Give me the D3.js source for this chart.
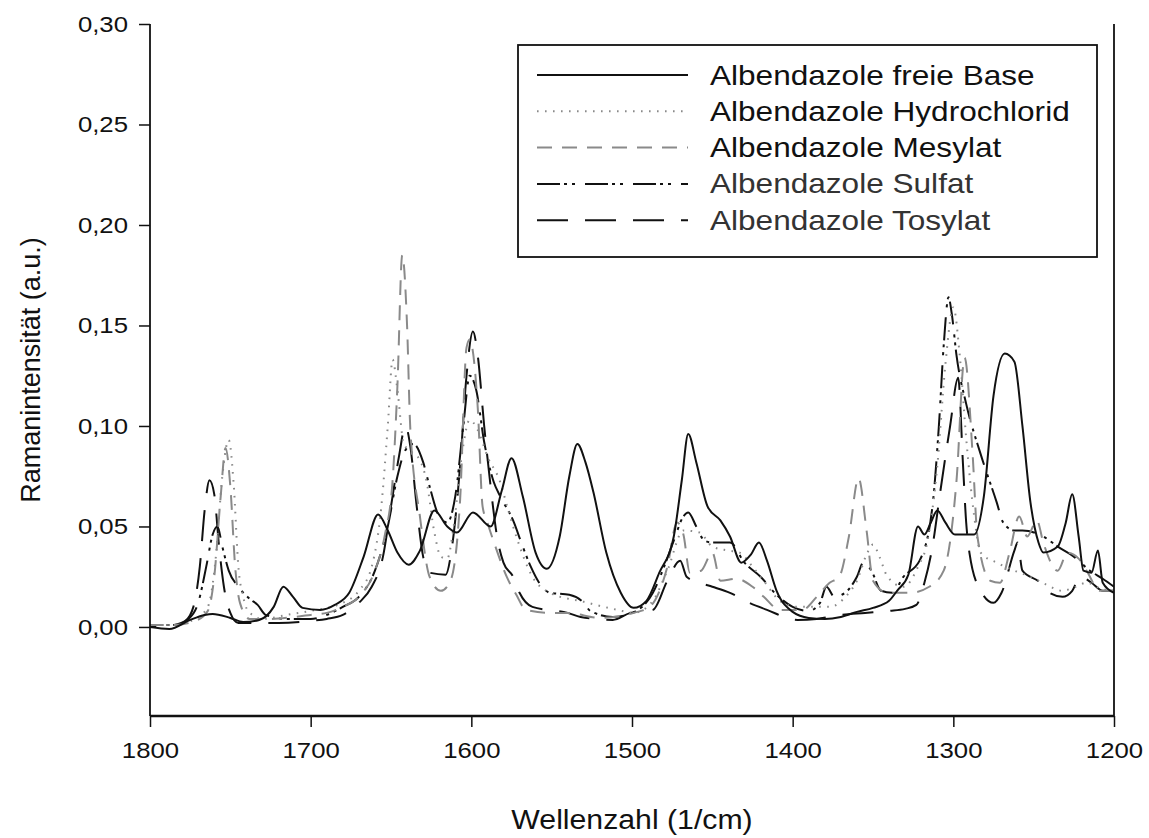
<!DOCTYPE html>
<html><head><meta charset="utf-8">
<script src="https://cdn.jsdelivr.net/npm/d3@7"></script>
<style>body{margin:0;background:#fff}svg{display:block}text{font-family:"Liberation Sans",Arial,sans-serif}</style>
</head><body>
<script>
// Series data: [wavenumber (1/cm), Raman intensity (a.u.)]
const seriesNames = ["Albendazole freie Base","Albendazole Hydrochlorid","Albendazole Mesylat","Albendazole Sulfat","Albendazole Tosylat"];
const freieBase = [[1800,0.000],[1788,-0.001],[1775,0.0035],[1766,0.006],[1761,0.0065],[1750,0.0045],[1742,0.0025],[1732,0.0035],[1723,0.010],[1717,0.020],[1711,0.015],[1705,0.0095],[1694,0.0085],[1685,0.011],[1676,0.017],[1667,0.035],[1658,0.056],[1652,0.048],[1646,0.037],[1639,0.031],[1632,0.038],[1623,0.058],[1615,0.050],[1609,0.047],[1599,0.057],[1588,0.050],[1581,0.068],[1575,0.084],[1568,0.065],[1560,0.037],[1553,0.029],[1545,0.045],[1539,0.075],[1534,0.091],[1529,0.082],[1524,0.067],[1516,0.037],[1507,0.017],[1499,0.0095],[1491,0.013],[1483,0.027],[1474,0.045],[1469,0.073],[1465,0.096],[1460,0.082],[1453,0.060],[1445,0.053],[1439,0.045],[1432,0.032],[1426,0.036],[1421,0.042],[1416,0.033],[1410,0.018],[1400,0.0075],[1390,0.0045],[1380,0.004],[1370,0.005],[1360,0.0075],[1350,0.0095],[1340,0.013],[1335,0.018],[1328,0.026],[1322,0.050],[1318,0.046],[1314,0.052],[1310,0.058],[1305,0.052],[1299,0.046],[1287,0.046],[1281,0.065],[1275,0.115],[1268,0.136],[1262,0.132],[1257,0.100],[1252,0.062],[1247,0.042],[1244,0.037],[1235,0.040],[1230,0.052],[1226,0.066],[1222,0.045],[1219,0.028],[1214,0.027],[1210,0.038],[1207,0.022],[1200,0.017]];
const hydrochlorid = [[1800,0.001],[1785,0.001],[1772,0.004],[1764,0.010],[1759,0.035],[1755,0.075],[1751,0.093],[1748,0.072],[1745,0.030],[1742,0.015],[1739,0.008],[1730,0.004],[1715,0.006],[1700,0.008],[1680,0.012],[1670,0.018],[1662,0.030],[1656,0.060],[1652,0.100],[1649,0.133],[1646,0.118],[1642,0.091],[1637,0.087],[1632,0.083],[1628,0.073],[1623,0.047],[1619,0.035],[1615,0.034],[1611,0.050],[1606,0.085],[1601,0.103],[1596,0.098],[1590,0.085],[1582,0.072],[1577,0.058],[1572,0.045],[1562,0.025],[1551,0.017],[1530,0.0125],[1509,0.0085],[1499,0.007],[1488,0.012],[1478,0.028],[1468,0.048],[1458,0.047],[1450,0.040],[1440,0.038],[1433,0.037],[1425,0.030],[1418,0.023],[1408,0.013],[1397,0.010],[1377,0.010],[1366,0.016],[1360,0.023],[1354,0.036],[1350,0.041],[1346,0.035],[1341,0.025],[1331,0.020],[1322,0.030],[1316,0.043],[1310,0.080],[1305,0.130],[1300,0.159],[1296,0.135],[1292,0.094],[1287,0.055],[1283,0.037],[1273,0.032],[1262,0.028],[1252,0.025],[1242,0.021],[1232,0.018],[1224,0.020],[1217,0.022],[1208,0.019],[1200,0.018]];
const mesylat = [[1800,0.001],[1785,0.001],[1772,0.003],[1764,0.008],[1760,0.025],[1756,0.065],[1753,0.089],[1750,0.070],[1747,0.030],[1744,0.012],[1738,0.004],[1725,0.004],[1710,0.005],[1700,0.006],[1690,0.007],[1680,0.010],[1670,0.015],[1660,0.028],[1654,0.045],[1649,0.073],[1646,0.120],[1643,0.185],[1640,0.150],[1638,0.099],[1632,0.055],[1626,0.025],[1619,0.018],[1613,0.023],[1607,0.063],[1603,0.139],[1601,0.143],[1598,0.130],[1596,0.109],[1593,0.060],[1590,0.052],[1585,0.040],[1578,0.025],[1572,0.016],[1566,0.0085],[1550,0.007],[1540,0.007],[1520,0.0045],[1499,0.007],[1489,0.010],[1478,0.030],[1472,0.052],[1468,0.046],[1464,0.027],[1457,0.028],[1450,0.037],[1445,0.023],[1435,0.024],[1425,0.020],[1418,0.015],[1408,0.0085],[1394,0.0085],[1385,0.015],[1377,0.022],[1371,0.025],[1365,0.045],[1359,0.074],[1354,0.048],[1350,0.023],[1341,0.017],[1327,0.017],[1315,0.020],[1306,0.028],[1298,0.073],[1293,0.134],[1288,0.086],[1285,0.045],[1277,0.023],[1271,0.022],[1265,0.037],[1259,0.055],[1254,0.045],[1248,0.053],[1244,0.042],[1235,0.028],[1229,0.037],[1222,0.034],[1217,0.028],[1209,0.018],[1200,0.018]];
const sulfat = [[1800,0.001],[1785,0.001],[1776,0.004],[1770,0.012],[1765,0.030],[1761,0.046],[1758,0.050],[1755,0.040],[1751,0.028],[1745,0.020],[1738,0.014],[1733,0.011],[1728,0.006],[1715,0.004],[1700,0.004],[1690,0.006],[1680,0.010],[1670,0.015],[1660,0.028],[1652,0.050],[1646,0.075],[1641,0.088],[1636,0.091],[1630,0.082],[1626,0.070],[1620,0.055],[1615,0.052],[1610,0.065],[1605,0.100],[1601,0.125],[1597,0.118],[1592,0.092],[1586,0.072],[1582,0.065],[1574,0.053],[1568,0.040],[1563,0.030],[1556,0.020],[1551,0.017],[1539,0.016],[1530,0.012],[1526,0.008],[1512,0.005],[1500,0.007],[1487,0.017],[1480,0.030],[1474,0.043],[1468,0.055],[1465,0.057],[1460,0.050],[1455,0.043],[1450,0.042],[1439,0.042],[1430,0.032],[1420,0.025],[1410,0.016],[1400,0.010],[1390,0.008],[1383,0.012],[1379,0.020],[1374,0.015],[1366,0.018],[1360,0.025],[1356,0.032],[1351,0.028],[1345,0.018],[1338,0.017],[1331,0.025],[1321,0.033],[1313,0.060],[1309,0.100],[1306,0.140],[1303,0.164],[1301,0.156],[1298,0.135],[1292,0.111],[1283,0.086],[1273,0.062],[1269,0.052],[1262,0.048],[1257,0.048],[1244,0.045],[1235,0.040],[1225,0.035],[1215,0.028],[1207,0.024],[1200,0.020]];
const tosylat = [[1800,0.000],[1785,0.001],[1778,0.003],[1773,0.010],[1769,0.030],[1766,0.058],[1763,0.073],[1760,0.066],[1757,0.040],[1754,0.020],[1750,0.007],[1745,0.002],[1730,0.002],[1720,0.002],[1700,0.003],[1690,0.004],[1680,0.006],[1670,0.012],[1662,0.020],[1655,0.035],[1650,0.060],[1645,0.085],[1641,0.100],[1638,0.090],[1634,0.060],[1630,0.035],[1626,0.027],[1616,0.026],[1612,0.040],[1607,0.080],[1603,0.125],[1599,0.147],[1596,0.135],[1592,0.100],[1588,0.070],[1584,0.045],[1580,0.032],[1574,0.025],[1570,0.017],[1562,0.010],[1540,0.007],[1532,0.005],[1512,0.0035],[1501,0.007],[1487,0.0085],[1478,0.023],[1470,0.033],[1466,0.025],[1458,0.022],[1450,0.020],[1439,0.017],[1427,0.012],[1416,0.0085],[1397,0.0035],[1385,0.004],[1370,0.006],[1355,0.007],[1340,0.008],[1330,0.009],[1323,0.011],[1318,0.022],[1313,0.040],[1308,0.068],[1302,0.100],[1297,0.124],[1294,0.081],[1292,0.052],[1290,0.037],[1283,0.018],[1275,0.012],[1270,0.017],[1262,0.038],[1260,0.042],[1257,0.028],[1246,0.022],[1242,0.018],[1232,0.015],[1226,0.018],[1221,0.025],[1214,0.022],[1207,0.018],[1200,0.018]];
const xTicks = [1800,1700,1600,1500,1400,1300,1200];
const yTicks = [0.00,0.05,0.10,0.15,0.20,0.25,0.30];

const W = 1149, H = 838;
const m = {left:150, right:1114, top:24, bottom:716};
const SX = 1.12; // horizontal text stretch seen in the reference
const svg = d3.select("body").append("svg").attr("width",W).attr("height",H);
const x = d3.scaleLinear().domain([1800,1200]).range([m.left,m.right]);
const y = d3.scaleLinear().domain([-0.0443,0.30]).range([m.bottom,m.top]);

const styles = [
  {color:"#111", dash:null, width:2},
  {color:"#8a8a8a", dash:"1.6,6.4", width:2},
  {color:"#8a8a8a", dash:"15,10", width:2},
  {color:"#111", dash:"23,4,3,5,3,10", width:2},
  {color:"#111", dash:"31,17", width:2}
];
const allData = [freieBase, hydrochlorid, mesylat, sulfat, tosylat];

const line = d3.line().x(d=>x(d[0])).y(d=>y(d[1])).curve(d3.curveMonotoneX);
svg.append("clipPath").attr("id","c").append("rect")
  .attr("x",m.left).attr("y",m.top).attr("width",m.right-m.left).attr("height",m.bottom-m.top);
const g = svg.append("g").attr("clip-path","url(#c)");
[4,3,2,1,0].forEach(i=>{
  const s = styles[i];
  g.append("path").datum(allData[i].slice().sort((a,b)=>a[0]-b[0]))
    .attr("d",line).attr("fill","none").attr("stroke",s.color)
    .attr("stroke-width",s.width).attr("stroke-dasharray",s.dash)
    .attr("stroke-linejoin","round");
});

// axes
const fmt = v => d3.format(".2f")(v).replace(".",",");
const yAxis = svg.append("g").attr("transform",`translate(${m.left},0)`)
  .call(d3.axisLeft(y).tickValues(yTicks).tickFormat(fmt).tickSize(11).tickPadding(11));
const xAxis = svg.append("g").attr("transform",`translate(0,${m.bottom})`)
  .call(d3.axisBottom(x).tickValues(xTicks).tickFormat(d3.format("d")).tickSize(11).tickPadding(11));
[yAxis,xAxis].forEach(a=>{
  a.select(".domain").remove();
  a.selectAll(".tick line").attr("stroke","#111").attr("stroke-width",1.5);
  a.selectAll(".tick text").attr("font-size",23).attr("fill","#111");
});
yAxis.selectAll(".tick text").attr("x",-22/SX).attr("transform",`scale(${SX},1)`);
xAxis.selectAll(".tick text").attr("transform",`scale(${SX},1)`).attr("dy","0.85em");
// frame lines (left, bottom, right)
svg.append("line").attr("x1",m.left).attr("x2",m.left).attr("y1",m.top).attr("y2",m.bottom).attr("stroke","#111").attr("stroke-width",1.8);
svg.append("line").attr("x1",m.left).attr("x2",m.right).attr("y1",m.bottom).attr("y2",m.bottom).attr("stroke","#111").attr("stroke-width",2.4);
svg.append("line").attr("x1",m.right).attr("x2",m.right).attr("y1",m.top).attr("y2",m.bottom).attr("stroke","#111").attr("stroke-width",1.8);

// axis titles
svg.append("g").attr("transform",`translate(${(m.left+m.right)/2},829) scale(${SX},1)`)
  .append("text").attr("text-anchor","middle").attr("font-size",27).attr("fill","#111").text("Wellenzahl (1/cm)");
svg.append("text").attr("transform",`translate(40,370) rotate(-90)`).attr("text-anchor","middle")
  .attr("font-size",27).attr("fill","#111").text("Ramanintensität (a.u.)");

// legend
const lg = svg.append("g");
lg.append("rect").attr("x",518).attr("y",45).attr("width",579).attr("height",212)
  .attr("fill","#fff").attr("stroke","#111").attr("stroke-width",1.8);
const textColors = ["#111","#111","#111","#333","#333"];
seriesNames.forEach((n,i)=>{
  const yy = 75 + i*36.3;
  const s = styles[i];
  lg.append("line").attr("x1",537).attr("x2",688).attr("y1",yy).attr("y2",yy)
    .attr("stroke",s.color).attr("stroke-width",s.width).attr("stroke-dasharray",s.dash);
  lg.append("g").attr("transform",`translate(710,${yy+9.5}) scale(${SX},1)`)
    .append("text").attr("font-size",28.2).attr("fill",textColors[i]).text(n);
});
</script>
</body></html>
